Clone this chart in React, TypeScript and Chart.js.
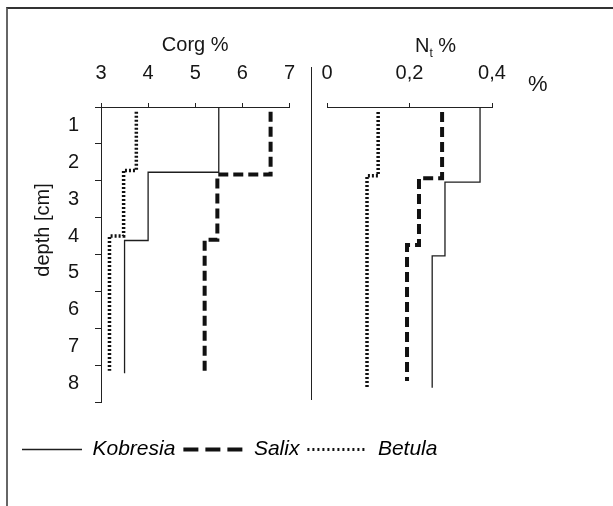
import React, { useEffect, useRef } from 'react';
import { Chart, registerables } from 'chart.js';

Chart.register(...registerables);

const FONT = '"Liberation Sans", Arial, Helvetica, sans-serif';
const INK = '#161616';

// ---- tick labels ----
const depthTicks = [1, 2, 3, 4, 5, 6, 7, 8];
const depthTickLabels = ['1', '2', '3', '4', '5', '6', '7', '8'];
const corgTicks = [3, 4, 5, 6, 7];
const corgTickLabels = ['3', '4', '5', '6', '7'];
const ntTicks = [0, 0.2, 0.4];
const ntTickLabels = ['0', '0,2', '0,4'];

const seriesNames = ['Kobresia', 'Salix', 'Betula'];

// ---- Corg % profiles (depth boundaries in cm, value per layer) ----
const corgKobresiaDepths = [0.5, 2.27, 4.12, 7.72];
const corgKobresiaValues = [5.5, 4.0, 3.5];
const corgSalixDepths = [0.63, 2.33, 4.1, 7.65];
const corgSalixValues = [6.6, 5.47, 5.2];
const corgBetulaDepths = [0.63, 2.22, 4.0, 7.65];
const corgBetulaValues = [3.75, 3.48, 3.18];

// ---- Nt % profiles ----
const ntKobresiaDepths = [0.5, 2.43, 4.33, 7.72];
const ntKobresiaValues = [0.371, 0.286, 0.255];
const ntSalixDepths = [0.63, 2.33, 4.05, 7.55];
const ntSalixValues = [0.279, 0.223, 0.194];
const ntBetulaDepths = [0.63, 2.27, 7.72];
const ntBetulaValues = [0.124, 0.097];

const lineStyles: Record<string, any> = {
  Kobresia: { borderColor: '#1e1e1e', borderWidth: 1.3, borderDash: [] },
  Salix: { borderColor: '#111', borderWidth: 4, borderDash: [10, 5] },
  Betula: { borderColor: '#111', borderWidth: 3.5, borderDash: [2, 2] },
};
const legendStyles: Record<string, any> = {
  Kobresia: { borderColor: '#1e1e1e', borderWidth: 1.5, borderDash: [] },
  Salix: { borderColor: '#111', borderWidth: 4, borderDash: [15, 7] },
  Betula: { borderColor: '#111', borderWidth: 3, borderDash: [2, 3] },
};

function stepPoints(depths: number[], values: number[]) {
  const pts: { x: number; y: number }[] = [];
  values.forEach((v, i) => {
    pts.push({ x: v, y: depths[i] });
    pts.push({ x: v, y: depths[i + 1] });
  });
  return pts;
}

function makeDataset(name: string, depths: number[], values: number[]) {
  return {
    label: name,
    data: stepPoints(depths, values),
    showLine: true,
    pointRadius: 0,
    pointHoverRadius: 0,
    fill: false,
    tension: 0,
    borderCapStyle: 'butt',
    borderJoinStyle: 'miter',
    clip: false,
    ...lineStyles[name],
  };
}

type TextRun = { text: string; size: number; dy?: number };
type TextItem = { runs: TextRun[]; x: number; y: number; rotate?: number; align?: CanvasTextAlign; baseline?: CanvasTextBaseline };

function textPlugin(items: TextItem[]) {
  return {
    id: 'extraText',
    afterDraw(chart: any) {
      const ctx: CanvasRenderingContext2D = chart.ctx;
      items.forEach((it) => {
        ctx.save();
        ctx.translate(it.x, it.y);
        if (it.rotate) ctx.rotate(it.rotate);
        ctx.fillStyle = INK;
        ctx.textBaseline = it.baseline || 'alphabetic';
        let total = 0;
        it.runs.forEach((r) => {
          ctx.font = `${r.size}px ${FONT}`;
          total += ctx.measureText(r.text).width;
        });
        let x = it.align === 'center' ? -total / 2 : it.align === 'right' ? -total : 0;
        ctx.textAlign = 'left';
        it.runs.forEach((r) => {
          ctx.font = `${r.size}px ${FONT}`;
          ctx.fillText(r.text, x, r.dy || 0);
          x += ctx.measureText(r.text).width;
        });
        ctx.restore();
      });
    },
  };
}

const tickFont = { family: FONT, size: 20 };

function depthScale(display: boolean) {
  return {
    type: 'linear',
    display,
    reverse: true,
    min: 0.5,
    max: 8.5,
    position: 'left',
    afterBuildTicks: (s: any) => {
      s.ticks = depthTicks.map((v) => ({ value: v }));
    },
    ticks: {
      callback: (_v: any, i: number) => depthTickLabels[i],
      font: tickFont,
      color: INK,
      padding: 16,
      autoSkip: false,
    },
    grid: { drawOnChartArea: false, offset: true, tickLength: 6, color: '#222', lineWidth: 1 },
    border: { color: '#222', width: 1 },
    afterFit: (s: any) => {
      s.width = display ? 101 : 0;
    },
  };
}

function App() {
  const refA = useRef<HTMLCanvasElement>(null);
  const refB = useRef<HTMLCanvasElement>(null);
  const refC = useRef<HTMLCanvasElement>(null);

  useEffect(() => {
    const chartA = new Chart(refA.current as HTMLCanvasElement, {
      type: 'line',
      data: {
        datasets: [
          makeDataset('Kobresia', corgKobresiaDepths, corgKobresiaValues),
          makeDataset('Salix', corgSalixDepths, corgSalixValues),
          makeDataset('Betula', corgBetulaDepths, corgBetulaValues),
        ] as any,
      },
      options: {
        animation: false,
        responsive: false,
        maintainAspectRatio: false,
        layout: { padding: { left: 0, right: 21, top: 0, bottom: 12 } },
        plugins: { legend: { display: false }, tooltip: { enabled: false } },
        scales: {
          x: {
            type: 'linear',
            position: 'top',
            min: 3,
            max: 7,
            afterBuildTicks: (s: any) => {
              s.ticks = corgTicks.map((v) => ({ value: v }));
            },
            ticks: {
              callback: (_v: any, i: number) => corgTickLabels[i],
              font: tickFont,
              color: INK,
              padding: 18,
              maxRotation: 0,
              autoSkip: false,
            },
            grid: { drawOnChartArea: false, tickLength: 4, color: '#222' },
            border: { color: '#222', width: 1 },
            title: {
              display: true,
              text: 'Corg %',
              font: { family: FONT, size: 20 },
              color: INK,
              padding: { top: 33, bottom: 0 },
            },
            afterFit: (s: any) => {
              s.height = 107;
            },
          } as any,
          y: depthScale(true) as any,
        },
      },
      plugins: [
        textPlugin([
          { runs: [{ text: 'depth [cm]', size: 20 }], x: 43, y: 230, rotate: -Math.PI / 2, align: 'center', baseline: 'middle' },
        ]),
      ],
    });

    const chartB = new Chart(refB.current as HTMLCanvasElement, {
      type: 'line',
      data: {
        datasets: [
          makeDataset('Kobresia', ntKobresiaDepths, ntKobresiaValues),
          makeDataset('Salix', ntSalixDepths, ntSalixValues),
          makeDataset('Betula', ntBetulaDepths, ntBetulaValues),
        ] as any,
      },
      options: {
        animation: false,
        responsive: false,
        maintainAspectRatio: false,
        layout: { padding: { left: 27, right: 121, top: 0, bottom: 12 } },
        plugins: { legend: { display: false }, tooltip: { enabled: false } },
        scales: {
          x: {
            type: 'linear',
            position: 'top',
            min: 0,
            max: 0.4,
            afterBuildTicks: (s: any) => {
              s.ticks = ntTicks.map((v) => ({ value: v }));
            },
            ticks: {
              callback: (_v: any, i: number) => ntTickLabels[i],
              font: tickFont,
              color: INK,
              padding: 18,
              maxRotation: 0,
              autoSkip: false,
            },
            grid: { drawOnChartArea: false, tickLength: 4, color: '#222' },
            border: { color: '#222', width: 1 },
            afterFit: (s: any) => {
              s.height = 107;
            },
          } as any,
          y: depthScale(false) as any,
        },
      },
      plugins: [
        textPlugin([
          {
            runs: [
              { text: 'N', size: 20 },
              { text: 't', size: 12, dy: 5 },
              { text: ' %', size: 20 },
            ],
            x: 115,
            y: 52,
          },
          { runs: [{ text: '%', size: 22 }], x: 228, y: 91 },
        ]),
      ],
    });

    const chartC = new Chart(refC.current as HTMLCanvasElement, {
      type: 'line',
      data: {
        datasets: seriesNames.map((name) => ({ label: name, data: [], ...legendStyles[name] })) as any,
      },
      options: {
        animation: false,
        responsive: false,
        maintainAspectRatio: false,
        layout: { padding: { left: 14, right: 0, top: 6, bottom: 0 } },
        scales: { x: { display: false }, y: { display: false } },
        plugins: {
          tooltip: { enabled: false },
          legend: {
            display: true,
            position: 'top',
            align: 'start',
            labels: {
              usePointStyle: true,
              pointStyleWidth: 60,
              boxWidth: 60,
              boxHeight: 4,
              padding: 8,
              color: INK,
              font: { family: FONT, size: 21, style: 'italic' },
              generateLabels: (chart: any) =>
                chart.data.datasets.map((ds: any, i: number) => ({
                  text: ds.label,
                  fillStyle: 'rgba(0,0,0,0)',
                  strokeStyle: ds.borderColor,
                  lineWidth: ds.borderWidth,
                  lineDash: ds.borderDash,
                  lineCap: 'butt',
                  pointStyle: 'line',
                  rotation: 0,
                  hidden: false,
                  datasetIndex: i,
                })),
            },
          } as any,
        },
      },
    });

    return () => {
      chartA.destroy();
      chartB.destroy();
      chartC.destroy();
    };
  }, []);

  return (
    <div style={{ position: 'absolute', left: 0, top: 0, width: 613, height: 506, overflow: 'hidden', background: '#fff' }}>
      <div
        style={{
          position: 'absolute',
          left: 6,
          top: 7,
          width: 640,
          height: 540,
          borderTop: '2px solid #333',
          borderLeft: '2px solid #666',
        }}
      />
      <div style={{ position: 'absolute', left: 311, top: 67, width: 1, height: 333, background: '#222' }} />
      <canvas ref={refA} width={313} height={430} style={{ position: 'absolute', left: 0, top: 0 }} />
      <canvas ref={refB} width={313} height={430} style={{ position: 'absolute', left: 300, top: 0 }} />
      <canvas ref={refC} width={613} height={60} style={{ position: 'absolute', left: 0, top: 425 }} />
    </div>
  );
}

export default App;
